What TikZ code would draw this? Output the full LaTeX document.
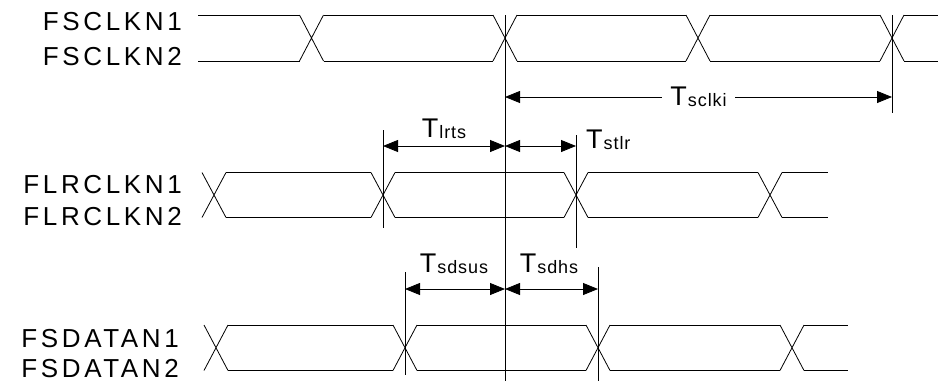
\documentclass[tikz,border=0pt]{standalone}
\usepackage{fontspec}
\setmainfont{Liberation Sans}
\newfontfamily\sigfont[LetterSpace=14]{Liberation Sans}
\newfontfamily\subfont[LetterSpace=5]{Liberation Sans}
\usetikzlibrary{arrows.meta}
\newcommand{\tsub}[1]{T\raisebox{-1.5pt}{\subfont\fontsize{18}{18}\selectfont\kern1pt #1}}

\begin{document}
\begin{tikzpicture}[x=1pt,y=-1pt,
        wave/.style={line width=0.8pt},
        guide/.style={line width=0.8pt},
        dimline/.style={line width=0.8pt,{Triangle[length=15pt,width=12pt]}-{Triangle[length=15pt,width=12pt]}},
        signame/.style={font=\sigfont\fontsize{26}{26}\selectfont,anchor=base east,inner sep=0pt},
        tname/.style={font=\fontsize{27}{27}\selectfont,inner sep=0pt}]
        \useasboundingbox (0,0) rectangle (938,381);
        % signal names
        \node[signame] (fsclk1) at (182,30) {FSCLKN1};
        \node[signame] (fsclk2) at (182,65) {FSCLKN2};
        \node[signame] (flrclk1) at (182,193) {FLRCLKN1};
        \node[signame] (flrclk2) at (182,225) {FLRCLKN2};
        \node[signame] (fsdata1) at (179,347) {FSDATAN1};
        \node[signame] (fsdata2) at (179,377) {FSDATAN2};
        % FSCLK
        \foreach \a/\b in {186/311.5,311.5/505,505/698,698/892,892/950}
            \draw[wave] (\a+12,15) -- (\b-12,15) (\a+12,61) -- (\b-12,61);
        \foreach \c in {311.5,505,698,892}
            \draw[wave] (\c-12,15) -- (\c+12,61) (\c-12,61) -- (\c+12,15);
        % FLRCLK
        \foreach \a/\b in {214/383,383/576,576/770,770/840}
            \draw[wave] (\a+12,172.5) -- (\b-12,172.5) (\a+12,217.5) -- (\b-12,217.5);
        \foreach \c in {214,383,576,770}
            \draw[wave] (\c-12,172.5) -- (\c+12,217.5) (\c-12,217.5) -- (\c+12,172.5);
        % FSDATA
        \foreach \a/\b in {216/405,405/598,598/792,792/860}
            \draw[wave] (\a+12,325) -- (\b-12,325) (\a+12,370.5) -- (\b-12,370.5);
        \foreach \c in {216,405,598,792}
            \draw[wave] (\c-12,325) -- (\c+12,370.5) (\c-12,370.5) -- (\c+12,325);
        % edges
        \coordinate (e0t) at (505,15);  \coordinate (e0b) at (505,381);
        \coordinate (e1t) at (892,15);  \coordinate (e1b) at (892,113);
        \coordinate (e2t) at (383,130); \coordinate (e2b) at (383,228);
        \coordinate (e3t) at (576,135); \coordinate (e3b) at (576,248);
        \coordinate (e4t) at (405,272); \coordinate (e4b) at (405,375);
        \coordinate (e5t) at (598,267); \coordinate (e5b) at (598,381);
        \foreach \e in {e0,e1,e2,e3,e4,e5}
            \draw[guide] (\e t) -- (\e b);
        % timings
        \coordinate (sclkA) at (505,97);   \coordinate (sclkB) at (892,97);
        \coordinate (lrtsA) at (383,146);  \coordinate (lrtsB) at (505,146);
        \coordinate (stlrB) at (576,146);
        \coordinate (sdsusA) at (405,289); \coordinate (sdsusB) at (505,289);
        \coordinate (sdhsB) at (598,289);
        \draw[dimline] (sclkA) -- node[tname,fill=white,inner xsep=8pt,inner ysep=2pt] (sclki) {\tsub{sclki}} (sclkB);
        \draw[dimline] (lrtsA) -- (lrtsB);
        \draw[dimline] (lrtsB) -- (stlrB);
        \draw[dimline] (sdsusA) -- (sdsusB);
        \draw[dimline] (sdsusB) -- (sdhsB);
        \node[tname,anchor=base] (lrts) at (444,137) {\tsub{lrts}};
        \node[tname,anchor=base west] (stlr) at (586,148) {\tsub{stlr}};
        \node[tname,anchor=base] (sdsus) at (454,272) {\tsub{sdsus}};
        \node[tname,anchor=base] (sdhs) at (549,272) {\tsub{sdhs}};
    \end{tikzpicture}
\end{document}
